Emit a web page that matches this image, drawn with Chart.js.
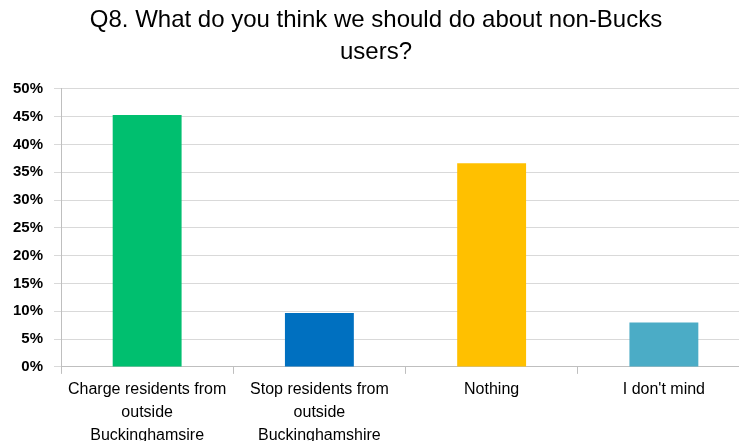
<!DOCTYPE html>
<html>
<head>
<meta charset="utf-8">
<script src="https://cdn.jsdelivr.net/npm/chart.js@4"></script>
<style>
  html, body { margin: 0; padding: 0; background: #fff; overflow: hidden; }
  #wrap { position: relative; width: 750px; height: 451px; }
</style>
</head>
<body>
<div id="wrap"><canvas id="chart"></canvas></div>
<script>
// question title, split the way the original wraps it
const titleLines = ['Q8. What do you think we should do about non-Bucks', 'users?']

// answer categories (multi-line labels)
const categories = [
  ['Charge residents from', 'outside', 'Buckinghamsire'],
  ['Stop residents from', 'outside', 'Buckinghamshire'],
  'Nothing',
  "I don't mind",
]

// share of respondents, percent
const responses = [45.3, 9.7, 36.6, 8.0]
const barColors = ['#00BF6F', '#0070C0', '#FFC000', '#4BACC6']

// y axis ticks
const yMax = 50
const yStep = 5

const ctx = document.getElementById('chart').getContext('2d')
new Chart(ctx, {
  type: 'bar',
  data: {
    labels: categories,
    datasets: [
      {
        data: responses,
        backgroundColor: barColors,
        borderWidth: 0,
        barPercentage: 0.8,
        categoryPercentage: 0.5,
      },
    ],
  },
  options: {
    responsive: true,
    maintainAspectRatio: false,
    animation: false,
    layout: {
      padding: { left: 2, right: 0, top: 0, bottom: 0 },
    },
    plugins: {
      legend: { display: false },
      tooltip: { enabled: false },
      title: {
        display: true,
        text: titleLines,
        color: '#000',
        font: { family: 'Liberation Sans, Arial, sans-serif', size: 24, weight: 'normal', lineHeight: 1.33 },
        padding: { top: 4, bottom: 21 },
      },
    },
    scales: {
      x: {
        grid: {
          offset: true,
          drawOnChartArea: false,
          tickLength: 7,
          color: '#BFBFBF',
        },
        border: { color: '#BFBFBF', width: 1 },
        ticks: {
          color: '#000',
          padding: 4,
          maxRotation: 0,
          autoSkip: false,
          font: { family: 'Liberation Sans, Arial, sans-serif', size: 16, lineHeight: 1.44 },
        },
      },
      y: {
        min: 0,
        max: yMax,
        grid: {
          color: '#D9D9D9',
          tickLength: 7,
        },
        border: { color: '#BFBFBF', width: 1 },
        ticks: {
          stepSize: yStep,
          color: '#000',
          padding: 11,
          font: { family: 'Liberation Sans, Arial, sans-serif', size: 15, weight: 'bold' },
          callback: (v) => v + '%',
        },
      },
    },
  },
})
</script>
</body>
</html>
